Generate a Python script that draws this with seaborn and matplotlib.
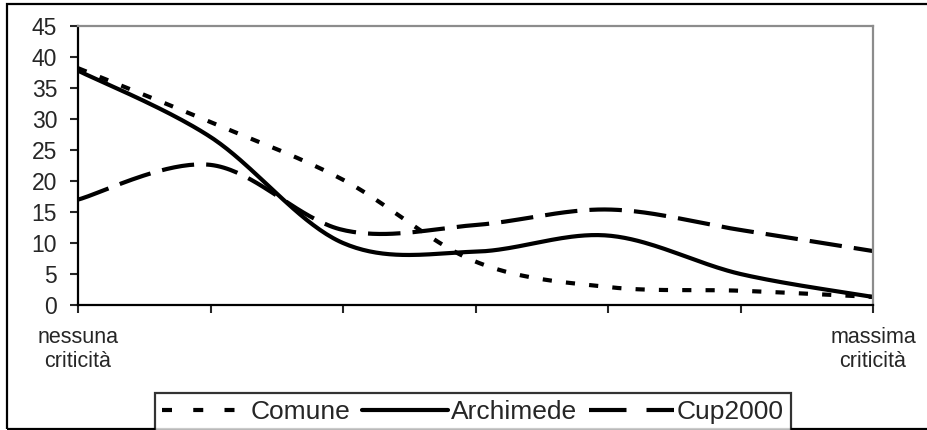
import numpy as np
import pandas as pd
import matplotlib
matplotlib.use("Agg")
import matplotlib.pyplot as plt
import seaborn as sns
from matplotlib.patches import Rectangle
from matplotlib.lines import Line2D

# ---- data ----
positions = [0, 1, 2, 3, 4, 5, 6]
tick_labels = ["nessuna\ncriticità", "", "", "", "", "", "massima\ncriticità"]
comune = [38.2, 29.5, 20.2, 7.0, 2.9, 2.3, 1.3]
archimede = [37.8, 27.1, 10.0, 8.6, 11.2, 5.0, 1.3]
cup2000 = [17.0, 22.6, 12.1, 12.9, 15.4, 12.1, 8.7]
series_names = ["Comune", "Archimede", "Cup2000"]


def smooth(xp, yp, n=40):
    """Catmull-Rom smoothing (like spreadsheet 'smoothed line')."""
    xp = np.asarray(xp, float)
    yp = np.asarray(yp, float)
    X = np.concatenate([[xp[0]], xp, [xp[-1]]])
    Y = np.concatenate([[yp[0]], yp, [yp[-1]]])
    xs, ys = [], []
    for i in range(1, len(X) - 2):
        p0x, p1x, p2x, p3x = X[i - 1], X[i], X[i + 1], X[i + 2]
        p0, p1, p2, p3 = Y[i - 1], Y[i], Y[i + 1], Y[i + 2]
        c1x, c1 = p1x + (p2x - p0x) / 6, p1 + (p2 - p0) / 6
        c2x, c2 = p2x - (p3x - p1x) / 6, p2 - (p3 - p1) / 6
        t = np.linspace(0, 1, n, endpoint=(i == len(X) - 3))
        b0, b1, b2, b3 = (1 - t) ** 3, 3 * t * (1 - t) ** 2, 3 * t ** 2 * (1 - t), t ** 3
        xs.append(b0 * p1x + b1 * c1x + b2 * c2x + b3 * p2x)
        ys.append(b0 * p1 + b1 * c1 + b2 * c2 + b3 * p2)
    return np.concatenate(xs), np.concatenate(ys)


sns.set_style("white")
plt.rcParams["font.family"] = ["Liberation Sans", "DejaVu Sans"]

fig = plt.figure(figsize=(9.28, 4.30), dpi=100)
ax = fig.add_axes([78 / 928, 1 - 305 / 430, (873 - 78) / 928, (305 - 26) / 430])

lw = 3.0
plot_styles = {
    "Comune": (0, (2.2, 3.4)),
    "Archimede": "-",
    "Cup2000": (0, (7.8, 2.9)),
}
legend_styles = {
    "Comune": (0, (2.4, 5.1)),
    "Archimede": "-",
    "Cup2000": (0, (9.0, 4.8)),
}
for name, vals in zip(series_names, [comune, archimede, cup2000]):
    sx, sy = smooth(positions, vals)
    df = pd.DataFrame({"x": sx, "y": sy})
    sns.lineplot(data=df, x="x", y="y", ax=ax, color="black", linewidth=lw,
                 sort=False, estimator=None)
    ax.lines[-1].set_linestyle(plot_styles[name])
    ax.lines[-1].set_dash_capstyle("butt")

ax.set_xlim(0, 6)
ax.set_ylim(0, 45)
ax.set_yticks(range(0, 46, 5))
ax.set_xticks(positions)
ax.set_xticklabels(tick_labels, fontsize=15.5)
ax.set_xlabel("")
ax.set_ylabel("")
ax.tick_params(axis="y", labelsize=16.5, length=6, width=1.5, direction="out", left=True, pad=9)
ax.tick_params(axis="x", length=6, width=1.5, direction="out", bottom=True, pad=10)
for s in ["left", "bottom"]:
    ax.spines[s].set_color("black")
    ax.spines[s].set_linewidth(1.6)
for s in ["top", "right"]:
    ax.spines[s].set_color("#8c8c8c")
    ax.spines[s].set_linewidth(1.6)
    ax.spines[s].set_visible(True)

# outer border (right edge falls outside the image)
fig.patches.append(Rectangle((7 / 928, 1 - 429 / 430), 1.2, (429 - 4) / 430,
                             transform=fig.transFigure, fill=False,
                             edgecolor="black", linewidth=1.6, clip_on=False))

handles = [Line2D([], [], color="black", linewidth=lw, linestyle=legend_styles[n],
                  dash_capstyle="butt") for n in series_names]
leg = fig.legend(handles, series_names, loc="lower left",
                 bbox_to_anchor=(155 / 928, 1 - 431 / 430), ncol=3,
                 fontsize=19, frameon=True, fancybox=False, handlelength=3.25,
                 handletextpad=0.1, columnspacing=0.45, borderpad=0.27,
                 borderaxespad=0)
leg.get_frame().set_edgecolor("black")
leg.get_frame().set_linewidth(1.6)

fig.savefig("out.png", dpi=100)
